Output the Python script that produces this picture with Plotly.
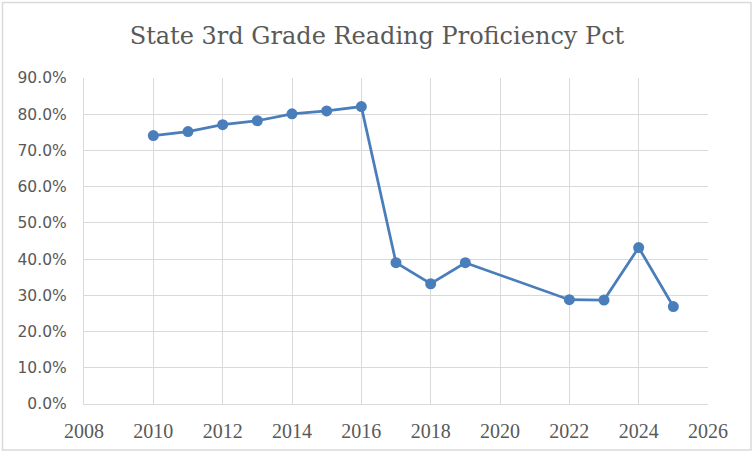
import plotly.graph_objects as go

years = [2010, 2011, 2012, 2013, 2014, 2015, 2016, 2017, 2018, 2019, 2022, 2023, 2024, 2025]
pct = [0.741, 0.752, 0.771, 0.782, 0.801, 0.809, 0.821, 0.390, 0.332, 0.390, 0.288, 0.287, 0.432, 0.269]
title_text = "State 3rd Grade Reading Proficiency Pct"

color = "#4a7ebb"
grid = "#d9d9d9"
textc = "#595959"

W, H = 754, 454
L, R, T, B = 84, 46, 78, 50
pw, ph = W - L - R, H - T - B

fig = go.Figure()
fig.add_trace(go.Scatter(
    x=years, y=pct, mode="lines+markers",
    line=dict(color=color, width=2.75),
    marker=dict(color=color, size=11),
    showlegend=False, hoverinfo="x+y",
))

fig.update_layout(
    width=W, height=H,
    paper_bgcolor="white", plot_bgcolor="white",
    margin=dict(l=L, r=R, t=T, b=B, autoexpand=False),
    title=dict(text=title_text, x=0.5, xanchor="center", y=1 - 36 / H, yanchor="middle",
               font=dict(family="DejaVu Serif", size=24, color=textc)),
    xaxis=dict(range=[2008, 2026], dtick=2, tick0=2008, showgrid=True, gridcolor=grid, gridwidth=1.3,
               showline=True, linecolor=grid, linewidth=1.3, zeroline=False,
               ticks="outside", ticklen=9, tickcolor="rgba(0,0,0,0)",
               tickfont=dict(family="Liberation Serif", size=20, color=textc)),
    yaxis=dict(range=[0, 0.9], dtick=0.1, tickformat=".1%", showgrid=True, gridcolor=grid, gridwidth=1.3,
               showline=True, linecolor=grid, linewidth=1.3, zeroline=False,
               ticks="outside", ticklen=13, tickcolor="rgba(0,0,0,0)",
               tickfont=dict(family="DejaVu Sans", size=15.5, color=textc)),
    shapes=[dict(type="rect", xref="paper", yref="paper",
                 x0=(2.5 - L) / pw, x1=(751 - L) / pw,
                 y0=(H - B - 450) / ph, y1=(H - B - 2.5) / ph,
                 line=dict(color="#d9d9d9", width=1.5))],
)

fig.write_html("out.html", config={"displayModeBar": False},
               post_script="document.body.style.margin='0';")
